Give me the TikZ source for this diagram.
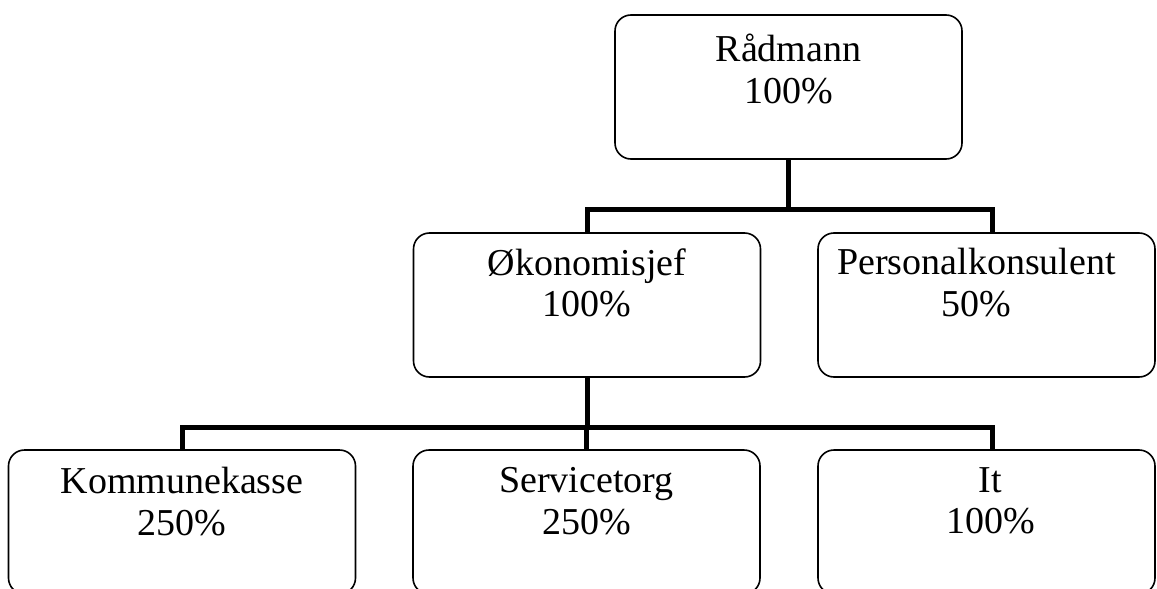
\documentclass[tikz,border=0pt]{standalone}
\usepackage{fontspec}
\setmainfont{Liberation Serif}
\begin{document}
\begin{tikzpicture}[x=1pt,y=-1pt,
  unit/.style={draw, line width=1.6pt, rounded corners=16pt,
    minimum width=347pt, minimum height=144pt, inner sep=0pt},
  narrowunit/.style={unit, minimum width=337pt},
  caption/.style={anchor=north, align=center, inner sep=0pt,
    font=\fontsize{38}{41.5}\selectfont},
  link/.style={line width=5pt, line join=miter}]
\useasboundingbox (0,0) rectangle (1157,589);

% boxes
\node[unit] (rad) at (788.5,87) {};
\node[unit] (oko) at (587,305) {};
\node[narrowunit] (per) at (986.5,305) {};
\node[unit] (kom) at (182,522) {};
\node[unit] (srv) at (586.5,522) {};
\node[narrowunit] (itb) at (986.5,522) {};

% captions
\node[caption] (radT) at ([yshift=-20pt]rad.north) {Rådmann\\100\%};
\node[caption] (okoT) at ([yshift=-16pt]oko.north) {Økonomisjef\\100\%};
\node[caption] (perT) at ([xshift=-10pt,yshift=-16pt]per.north) {Personalkonsulent\\50\%};
\node[caption] (komT) at ([yshift=-18pt]kom.north) {Kommunekasse\\250\%};
\node[caption] (srvT) at ([yshift=-18pt]srv.north) {Servicetorg\\250\%};
\node[caption] (itbT) at ([xshift=4pt,yshift=-18pt]itb.north) {It\\100\%};

% connectors
\coordinate (busA) at (0,209);
\coordinate (busB) at (0,427);
\draw[link] (rad.south) -- (rad.south |- busA) -| (oko.north);
\draw[link] (rad.south |- busA) -| ([xshift=5.5pt]per.north);
\draw[link] (oko.south) -- (oko.south |- busB) -| (kom.north);
\draw[link] (oko.south |- busB) -| (srv.north);
\draw[link] (oko.south |- busB) -| ([xshift=5.5pt]itb.north);
\end{tikzpicture}
\end{document}
